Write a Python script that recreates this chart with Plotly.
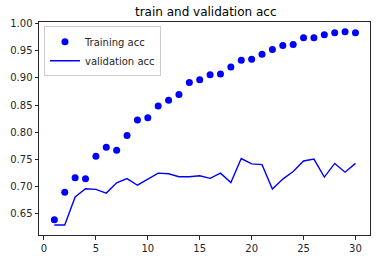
import plotly.graph_objects as go

epochs = list(range(1, 31))
train_acc = [0.6377, 0.6884, 0.7156, 0.7138, 0.7554, 0.7717, 0.7663, 0.7935, 0.8225, 0.8266,
             0.8480, 0.8587, 0.8696, 0.8918, 0.8967, 0.9058, 0.9076, 0.9203, 0.9330, 0.9348,
             0.9438, 0.9529, 0.9600, 0.9620, 0.9746, 0.9746, 0.9800, 0.9837, 0.9855, 0.9837]
val_acc = [0.628, 0.628, 0.680, 0.695, 0.694, 0.687, 0.706, 0.7138, 0.7016, 0.713,
           0.724, 0.7228, 0.7174, 0.7174, 0.719, 0.7143, 0.724, 0.7065, 0.751, 0.741,
           0.7397, 0.6944, 0.713, 0.727, 0.7464, 0.750, 0.7167, 0.742, 0.7257, 0.742]
x_ticks = [0, 5, 10, 15, 20, 25, 30]
y_ticks = [0.65, 0.70, 0.75, 0.80, 0.85, 0.90, 0.95, 1.00]

fig = go.Figure()
fig.add_trace(go.Scatter(x=epochs, y=train_acc, mode="markers", name="Training acc",
                         marker=dict(color="#0000ff", size=7)))
fig.add_trace(go.Scatter(x=epochs, y=val_acc, mode="lines", name="validation acc",
                         line=dict(color="#0000ff", width=1.4)))

axis_common = dict(showline=True, linecolor="#262626", linewidth=1, mirror=True,
                   ticks="outside", ticklen=3.5, tickcolor="#262626", showgrid=False,
                   zeroline=False, tickfont=dict(size=10, color="#262626"))
fig.update_layout(
    width=381, height=264,
    margin=dict(l=37, r=10, t=22, b=24),
    paper_bgcolor="white", plot_bgcolor="white",
    font=dict(family="DejaVu Sans", color="#262626"),
    title=dict(text="train and validation acc", x=0.54, xanchor="center", y=0.955,
               yanchor="middle", font=dict(size=12, color="#000000")),
    xaxis=dict(range=[-0.48, 31.4], tickvals=x_ticks, **axis_common),
    yaxis=dict(range=[0.6095, 1.0036], tickvals=y_ticks, tickformat=".2f", **axis_common),
    legend=dict(x=0.015, y=0.98, xanchor="left", yanchor="top",
                bgcolor="rgba(255,255,255,0.8)", bordercolor="#cccccc", borderwidth=1,
                font=dict(size=10, color="#262626"), tracegroupgap=0, itemwidth=30),
    showlegend=True,
)
fig.write_html("out.html")
